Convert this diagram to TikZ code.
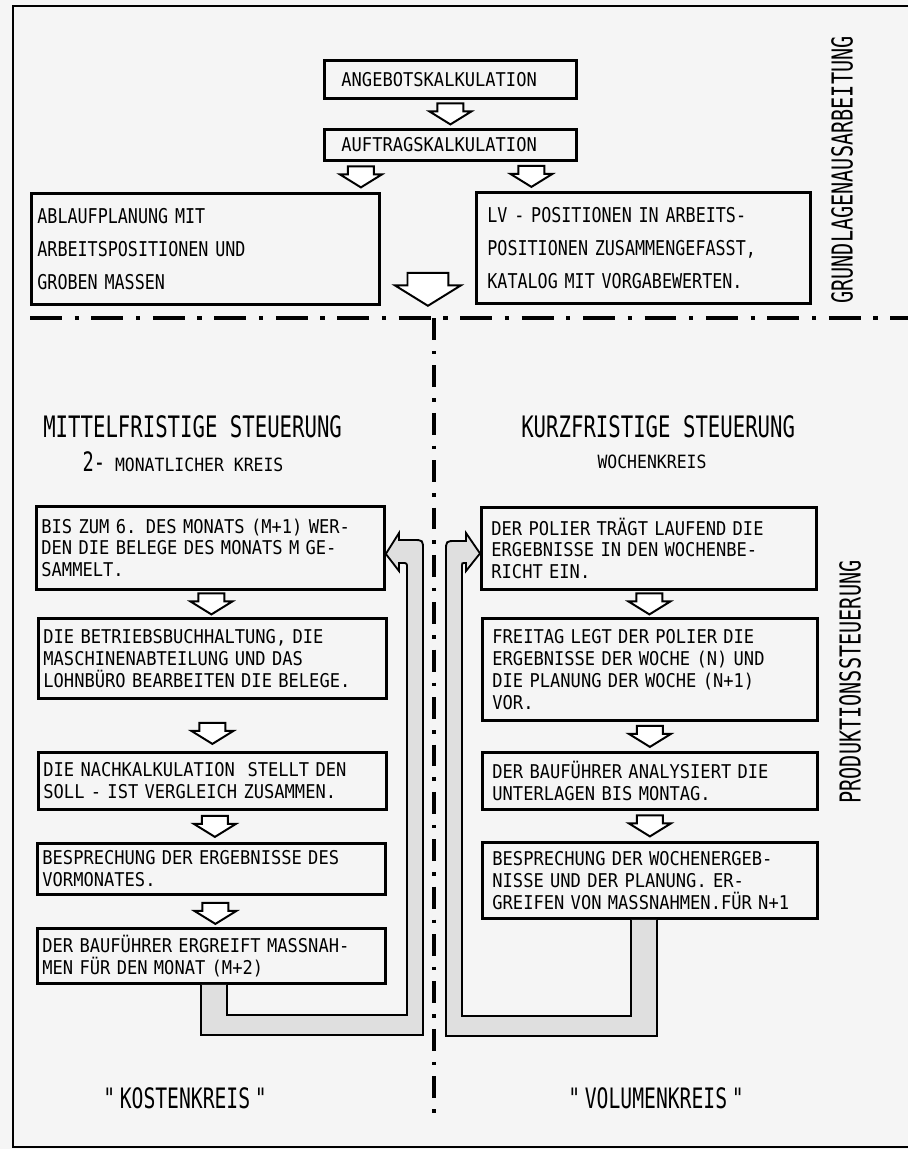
\documentclass[tikz,border=0pt]{standalone}
\usepackage{fontspec}
\usepackage{tikz}
\usetikzlibrary{calc,positioning}
\newfontfamily\boxfont{DejaVu Sans Mono}[FakeStretch=0.90]
\newfontfamily\condfont{DejaVu Sans Mono}[FakeStretch=0.82]
\newfontfamily\headfont{DejaVu Sans Mono}[FakeStretch=0.70]
\newlength\pxu
\setlength\pxu{0.025cm}
\tikzset{
    planbox/.style={
        rectangle,
        draw=black, line width=2pt,
        anchor=north west,
        align=left,
        inner ysep=0pt,
        font={\boxfont\fontsize{13.5pt}{15.6pt}\selectfont}
    },
    widebox/.style={font={\condfont\fontsize{14.5pt}{23.5pt}\selectfont}},
    boxsize/.style n args={3}{
        minimum width=#1*\pxu,
        minimum height=#2*\pxu,
        inner xsep=#3*\pxu,
        text width=(#1-2*#3)*\pxu
    },
    hollowdown/.pic={
        \draw[line width=1.4pt, fill=white, line join=miter]
            (-13,-10.5) -- (13,-10.5) -- (13,-2.5) -- (21,-2.5) -- (0,10.5)
            -- (-21,-2.5) -- (-13,-2.5) -- cycle;
    },
    loopband/.style={draw=black, line width=1.3pt, fill=gray!25, line join=miter},
    septrenn/.style={line width=2.6pt, dash pattern=on 22.7pt off 9pt on 3pt off 9pt},
    spaltentrenn/.style={line width=2.4pt, dash pattern=on 15.6pt off 7.8pt on 2.5pt off 7.8pt},
    headline/.style={inner sep=0pt, font={\headfont\fontsize{21pt}{24pt}\selectfont}},
    sideline/.style={inner sep=0pt, rotate=90, font={\headfont\fontsize{20.5pt}{24pt}\selectfont}},
    subline/.style={inner sep=0pt, font={\boxfont\fontsize{13pt}{15pt}\selectfont}},
    kreislabel/.style={inner sep=0pt, font={\headfont\fontsize{20pt}{22pt}\selectfont}},
}

\begin{document}
\begin{tikzpicture}[x=0.025cm, y=-0.025cm]
    \useasboundingbox (0,0) rectangle (908,1149);
    \fill[white!96!black] (0,0) rectangle (908,1149);
    \draw[line width=1pt] (908,6) -- (13,6) -- (13,1147) -- (908,1147);

    % Grundlagenausarbeitung
    \node[planbox, boxsize={252}{38}{17}] (ang) at (323,59) {ANGEBOTSKALKULATION};
    \node[planbox, boxsize={252}{31}{17}] (auf) at (323,128) {AUFTRAGSKALKULATION};
    \node[planbox, widebox, boxsize={348}{111}{6}] (abl) at (30,192)
        {ABLAUFPLANUNG MIT\\ARBEITSPOSITIONEN UND\\GROBEN MASSEN};
    \node[planbox, widebox, boxsize={334}{111}{11}] (lv) at (475,191)
        {LV - POSITIONEN IN ARBEITS-\\POSITIONEN ZUSAMMENGEFASST,\\KATALOG MIT VORGABEWERTEN.};

    \pic at ($(ang.south)!.5!(auf.north)$) {hollowdown};
    \pic at ($(auf.south west)!.5!(abl.north east)+(9,0)$) {hollowdown};
    \pic at ($(auf.south east)!.5!(lv.north west)+(5,0)$) {hollowdown};
    \pic[scale=1.57] at ($(abl.south east)!.5!(lv.south west)+(0,-16)$) {hollowdown};

    \node[sideline] (grund) at (842,170) {GRUNDLAGENAUSARBEITUNG};

    % Trennlinien
    \coordinate (hl) at (30,318);
    \coordinate (hr) at (908,318);
    \coordinate (vo) at (434,318);
    \coordinate (vu) at (434,1122);
    \draw[septrenn] (hl) -- (hr);
    \draw[spaltentrenn] (vo) -- (vu);

    % Produktionssteuerung
    \node[headline, anchor=west] (mittel) at (43,427) {MITTELFRISTIGE STEUERUNG};
    \node[subline] (zweimon) at (183,462)
        {{\headfont\fontsize{19pt}{19pt}\selectfont 2-} MONATLICHER KREIS};
    \node[headline, anchor=west] (kurz) at (521,427) {KURZFRISTIGE STEUERUNG};
    \node[subline] (woche) at (652,462) {WOCHENKREIS};

    \node[planbox, boxsize={348}{83}{5}] (l1) at (35,505)
        {BIS ZUM 6. DES MONATS (M+1) WER-\\DEN DIE BELEGE DES MONATS M GE-\\SAMMELT.};
    \node[planbox, boxsize={348}{80}{5}] (l2) at (37,617)
        {DIE BETRIEBSBUCHHALTUNG, DIE\\MASCHINENABTEILUNG UND DAS\\LOHNBÜRO BEARBEITEN DIE BELEGE.};
    \node[planbox, boxsize={348}{57}{5}] (l3) at (37,751)
        {DIE NACHKALKULATION\ \ STELLT DEN\\SOLL - IST VERGLEICH ZUSAMMEN.};
    \node[planbox, boxsize={348}{51}{5}] (l4) at (36,842)
        {BESPRECHUNG DER ERGEBNISSE DES\\VORMONATES.};
    \node[planbox, boxsize={348}{55}{5}] (l5) at (36,927)
        {DER BAUFÜHRER ERGREIFT MASSNAH-\\MEN FÜR DEN MONAT (M+2)};

    \node[planbox, boxsize={335}{82}{10}] (r1) at (480,506)
        {DER POLIER TRÄGT LAUFEND DIE\\ERGEBNISSE IN DEN WOCHENBE-\\RICHT EIN.};
    \node[planbox, boxsize={335}{102}{10}] (r2) at (481,617)
        {FREITAG LEGT DER POLIER DIE\\ERGEBNISSE DER WOCHE (N) UND\\DIE PLANUNG DER WOCHE (N+1)\\VOR.};
    \node[planbox, boxsize={335}{57}{10}] (r3) at (481,751)
        {DER BAUFÜHRER ANALYSIERT DIE\\UNTERLAGEN BIS MONTAG.};
    \node[planbox, boxsize={335}{76}{10}] (r4) at (481,841)
        {BESPRECHUNG DER WOCHENERGEB-\\NISSE UND DER PLANUNG. ER-\\GREIFEN VON MASSNAHMEN.FÜR N+1};

    \pic at ($(l1.south)!.5!(l2.north)$) {hollowdown};
    \pic at ($(l2.south)!.5!(l3.north)+(0,8)$) {hollowdown};
    \pic at ($(l3.south)!.5!(l4.north)+(3,0)$) {hollowdown};
    \pic at ($(l4.south)!.5!(l5.north)+(4,2)$) {hollowdown};
    \pic at ($(r1.south)!.5!(r2.north)$) {hollowdown};
    \pic at ($(r2.south)!.5!(r3.north)$) {hollowdown};
    \pic at ($(r3.south)!.5!(r4.north)$) {hollowdown};

    % Regelkreise
    \draw[loopband] ($(l5.south west)+(165,0)$) -- (201,1035) -- (423,1035)
        -- (423,550) .. controls (423,540) .. (413,540) -- (399,540)
        -- (399,533) -- ($(l1.east)+(0,6)$) -- (399,571) -- (399,563)
        -- (402,563) .. controls (407,563) .. (407,568)
        -- (407,1015) -- (227,1015) -- ($(l5.south west)+(191,0)$);
    \draw[loopband] ($(r4.south west)+(176,0)$) -- (657,1036) -- (446,1036)
        -- (446,551) .. controls (446,541) .. (456,541) -- (466,541)
        -- (466,533) -- ($(r1.west)+(0,5)$) -- (466,571) -- (466,563)
        -- (464,563) .. controls (462,563) .. (462,566)
        -- (462,1016) -- (631,1016) -- ($(r4.south west)+(150,0)$);

    \node[sideline] (prod) at (850,682) {PRODUKTIONSSTEUERUNG};

    \node[kreislabel] (kosten) at (185,1098) {"\,KOSTENKREIS\,"};
    \node[kreislabel] (volumen) at (656,1098) {"\,VOLUMENKREIS\,"};
\end{tikzpicture}
\end{document}
